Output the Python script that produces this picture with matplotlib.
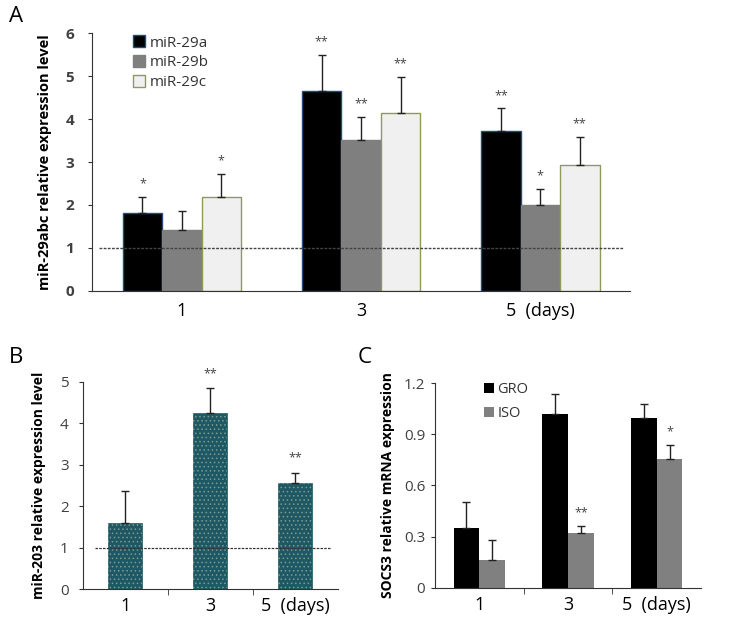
import numpy as np
import matplotlib
matplotlib.use('Agg')
import matplotlib.pyplot as plt

plt.rcParams['font.family'] = ['Open Sans', 'DejaVu Sans']
plt.rcParams['hatch.linewidth'] = 0.6

# Panel A data
days = ['1', '3', '5  (days)']
a_names = ['miR-29a', 'miR-29b', 'miR-29c']
mir29a = [1.80, 4.66, 3.73]
mir29a_err = [0.38, 0.83, 0.52]
mir29b = [1.42, 3.52, 2.00]
mir29b_err = [0.44, 0.54, 0.38]
mir29c = [2.19, 4.15, 2.93]
mir29c_err = [0.54, 0.83, 0.66]
a_stars = [['*', '**', '**'], ['', '**', '*'], ['*', '**', '**']]

# Panel B data
mir203 = [1.60, 4.25, 2.55]
mir203_err = [0.77, 0.59, 0.25]
b_stars = ['', '**', '**']

# Panel C data
c_names = ['GRO', 'ISO']
gro = [0.352, 1.02, 0.996]
gro_err = [0.153, 0.117, 0.082]
iso = [0.163, 0.323, 0.754]
iso_err = [0.117, 0.039, 0.084]
c_stars = [['', '', ''], ['', '**', '*']]

tick_col = '#404040'

fig = plt.figure(figsize=(7.3, 6.26), dpi=100)

def style_axes(ax, ymax, yticks, fmt, pad=2):
    ax.spines['top'].set_visible(False)
    ax.spines['right'].set_visible(False)
    ax.spines['left'].set_color('#333333')
    ax.spines['bottom'].set_color('#333333')
    ax.set_ylim(0, ymax)
    ax.set_yticks(yticks)
    ax.set_yticklabels([fmt(v) for v in yticks], color=tick_col, fontsize=11)
    ax.tick_params(axis='y', length=3, width=0.8, color='#333333', pad=pad)

# ---------------- A ----------------
ax = fig.add_axes([0.1264, 0.5356, 0.7366, 0.4112])
x = np.arange(3)
w = 0.22
series = [(mir29a, mir29a_err, 'black', '#2a4a7a'),
          (mir29b, mir29b_err, '#7f7f7f', '#7f7f7f'),
          (mir29c, mir29c_err, '#f0f0f0', '#8c9a5a')]
for i, (vals, errs, fc, ec) in enumerate(series):
    xs = x + (i - 1) * w
    ax.bar(xs, vals, w, color=fc, edgecolor=ec, linewidth=1, label=a_names[i],
           yerr=[[0] * 3, errs], error_kw=dict(ecolor='#222222', elinewidth=1, capsize=3, capthick=1))
    for j in range(3):
        if a_stars[i][j]:
            ax.text(xs[j], vals[j] + errs[j] + 0.15, a_stars[i][j], ha='center', va='bottom',
                    fontsize=9, color='#444444')
ax.plot([-0.46, 2.46], [1, 1], linestyle=(0, (2, 1)), color='#444444', linewidth=1)
ax.set_xlim(-0.5, 2.5)
ax.set_xticks(x)
ax.set_xticklabels(days, fontsize=13)
ax.tick_params(axis='x', length=0, pad=8)
style_axes(ax, 6, range(7), lambda v: str(v), pad=10)
for t in ax.get_yticklabels():
    t.set_fontweight('bold')
ax.set_ylabel('miR-29abc relative expression level', fontsize=10.5, fontweight='bold', labelpad=10)
ax.legend(loc='upper left', bbox_to_anchor=(0.05, 1.045), frameon=False, fontsize=11,
          handlelength=0.8, handleheight=0.8, handletextpad=0.3, labelspacing=0.3,
          labelcolor='#333333')

# ---------------- B ----------------
ax = fig.add_axes([0.1133, 0.0591, 0.3497, 0.3311])
ax.bar(x, mir203, 0.4, color='#1e5864', edgecolor='#1e5864', linewidth=0.5,
       yerr=[[0] * 3, mir203_err], error_kw=dict(ecolor='#222222', elinewidth=1, capsize=3, capthick=1))
ax.bar(x, mir203, 0.4, color='none', edgecolor='#7f9a8c', linewidth=0, hatch='....')
for j in range(3):
    if b_stars[j]:
        ax.text(x[j], mir203[j] + mir203_err[j] + 0.2, b_stars[j], ha='center', va='bottom',
                fontsize=9, color='#444444')
ax.plot([-0.36, 2.42], [1, 1], linestyle=(0, (2, 1)), color='#333333', linewidth=0.9)
ax.set_xlim(-0.5, 2.5)
ax.set_xticks(x)
ax.set_xticklabels(days, fontsize=13)
ax.set_xticks([0.5, 1.5], minor=True)
ax.tick_params(axis='x', which='major', length=0, pad=6)
ax.tick_params(axis='x', which='minor', length=4, color='#333333')
style_axes(ax, 5, range(6), lambda v: str(v), pad=7)
ax.set_ylabel('miR-203 relative expression level', fontsize=10, fontweight='bold', labelpad=10)

# ---------------- C ----------------
ax = fig.add_axes([0.5959, 0.0612, 0.3644, 0.3265])
wc = 0.29
for i, (vals, errs, fc) in enumerate([(gro, gro_err, 'black'), (iso, iso_err, '#808080')]):
    xs = x + (i - 0.5) * wc
    ax.bar(xs, vals, wc, color=fc, label=c_names[i],
           yerr=[[0] * 3, errs], error_kw=dict(ecolor='#222222', elinewidth=1, capsize=3, capthick=1))
    for j in range(3):
        if c_stars[i][j]:
            ax.text(xs[j], vals[j] + errs[j] + 0.04, c_stars[i][j], ha='center', va='bottom',
                    fontsize=9, color='#444444')
ax.set_xlim(-0.5, 2.5)
ax.set_xticks(x)
ax.set_xticklabels(days, fontsize=13)
ax.set_xticks([0.5, 1.5], minor=True)
ax.tick_params(axis='x', which='major', length=0, pad=6)
ax.tick_params(axis='x', which='minor', length=4, color='#333333')
style_axes(ax, 1.2, [0, 0.3, 0.6, 0.9, 1.2], lambda v: '0' if v == 0 else '%.1f' % v, pad=4)
ax.set_ylabel('SOCS3 relative mRNA expression', fontsize=10, fontweight='bold', labelpad=6)
ax.legend(loc='upper left', bbox_to_anchor=(0.135, 1.07), frameon=False, fontsize=10.5,
          handlelength=0.7, handleheight=0.7, handletextpad=0.2, labelspacing=0.6,
          labelcolor='#333333')

# panel letters
fig.text(0.012, 0.965, 'A', fontsize=16)
fig.text(0.012, 0.42, 'B', fontsize=16)
fig.text(0.49, 0.42, 'C', fontsize=16)

fig.savefig('out.png', dpi=100)
